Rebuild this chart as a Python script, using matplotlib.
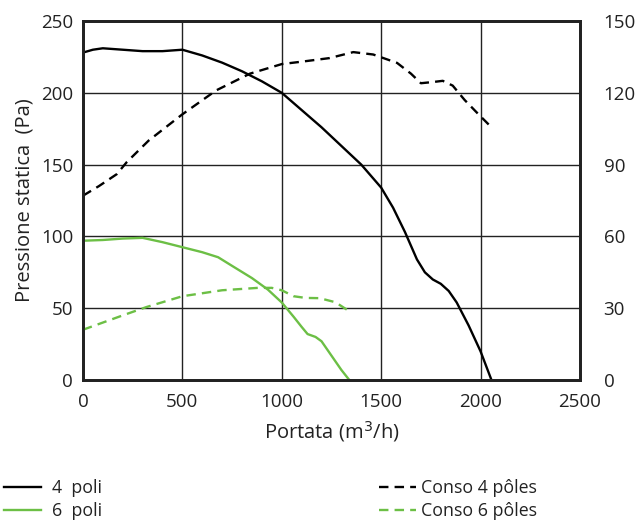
import matplotlib
matplotlib.use("Agg")
import matplotlib.pyplot as plt
from matplotlib.lines import Line2D

# static pressure curves (Pa) vs airflow (m3/h)
flow_4p = [0, 50, 100, 200, 300, 400, 500, 600, 700, 800, 900, 1000, 1100, 1200,
           1300, 1400, 1500, 1560, 1620, 1680, 1720, 1760, 1800, 1840, 1880, 1940, 2000, 2055]
pres_4p = [228, 230, 231, 230, 229, 229, 230, 226, 221, 215, 208, 200, 188, 176,
           163, 150, 134, 120, 103, 84, 75, 70, 67, 62, 54, 38, 20, 0]

flow_6p = [0, 100, 200, 300, 400, 500, 600, 680, 750, 850, 930, 1000, 1060, 1100,
           1130, 1170, 1200, 1250, 1300, 1340]
pres_6p = [97, 97.5, 98.5, 99, 96, 92.5, 89, 85.5, 79.5, 71, 63, 54, 44, 37,
           32, 30, 27, 17, 7, 0]

# absorbed power curves (right axis)
flow_c4 = [0, 80, 170, 220, 330, 500, 670, 840, 1000, 1100, 1240, 1360, 1460,
           1580, 1650, 1700, 1760, 1810, 1860, 1920, 1990, 2050]
cons_c4 = [77, 81, 86, 91, 100, 111, 121, 128, 132, 133, 134.5, 137, 136,
           132.5, 128, 124, 124.5, 125, 123, 117, 111, 106]

flow_c6 = [0, 100, 200, 320, 500, 700, 880, 950, 1000, 1060, 1120, 1190, 1270, 1335]
cons_c6 = [21, 24, 27, 30.5, 35, 37.5, 38.5, 38.5, 37.5, 35, 34.3, 34.2, 32.5, 29]

x_ticks = [0, 500, 1000, 1500, 2000, 2500]
y_ticks = [0, 50, 100, 150, 200, 250]
y2_ticks = [0, 30, 60, 90, 120, 150]

GREEN = "#6cbf45"
plt.rcParams["font.family"] = ["Open Sans", "DejaVu Sans"]

fig = plt.figure(figsize=(6.38, 5.21), dpi=100)
ax = fig.add_axes([0.130, 0.2706, 0.779, 0.6891])
ax2 = ax.twinx()

ax.plot(flow_4p, pres_4p, color="black", lw=1.7, solid_joinstyle="round")
ax.plot(flow_6p, pres_6p, color=GREEN, lw=1.7, solid_joinstyle="round")
ax2.plot(flow_c4, cons_c4, color="black", lw=1.7, dashes=(4, 2.6))
ax2.plot(flow_c6, cons_c6, color=GREEN, lw=1.7, dashes=(4, 2.6))

ax.set_xlim(0, 2500)
ax.set_ylim(0, 250)
ax2.set_ylim(0, 150)
ax.set_xticks(x_ticks)
ax.set_yticks(y_ticks)
ax2.set_yticks(y2_ticks)
ax.grid(True, color="#222222", lw=1.0)
ax.set_axisbelow(True)

ax.tick_params(axis="both", length=0, labelsize=13.5, colors="#222222")
ax.tick_params(axis="x", pad=9)
ax.tick_params(axis="y", pad=7)
ax2.tick_params(axis="y", length=0, labelsize=13.5, colors="#222222", pad=17)

for a in (ax, ax2):
    for s in a.spines.values():
        s.set_linewidth(2.0)
        s.set_color("#222222")

ax.set_xlabel("Portata (m$^3$/h)", fontsize=14.5, color="#222222", labelpad=6)
ax.set_ylabel("Pressione statica  (Pa)", fontsize=14.5, color="#222222", labelpad=5)

h_left = [Line2D([], [], color="black", lw=1.7), Line2D([], [], color=GREEN, lw=1.7)]
h_right = [Line2D([], [], color="black", lw=1.7, dashes=(4, 2.6)),
           Line2D([], [], color=GREEN, lw=1.7, dashes=(4, 2.6))]

leg1 = fig.legend(h_left, ["4  poli", "6  poli"], loc="upper left",
                  bbox_to_anchor=(-0.005, 0.094), frameon=False, fontsize=12.8,
                  handlelength=2.1, handletextpad=0.6, labelspacing=0.3,
                  borderaxespad=0)
leg2 = fig.legend(h_right, ["Conso 4 pôles", "Conso 6 pôles"], loc="upper left",
                  bbox_to_anchor=(0.583, 0.094), frameon=False, fontsize=12.8,
                  handlelength=2.1, handletextpad=0.25, labelspacing=0.3,
                  borderaxespad=0)
for t in leg1.get_texts() + leg2.get_texts():
    t.set_color("#222222")

fig.savefig("out.png", dpi=100)
